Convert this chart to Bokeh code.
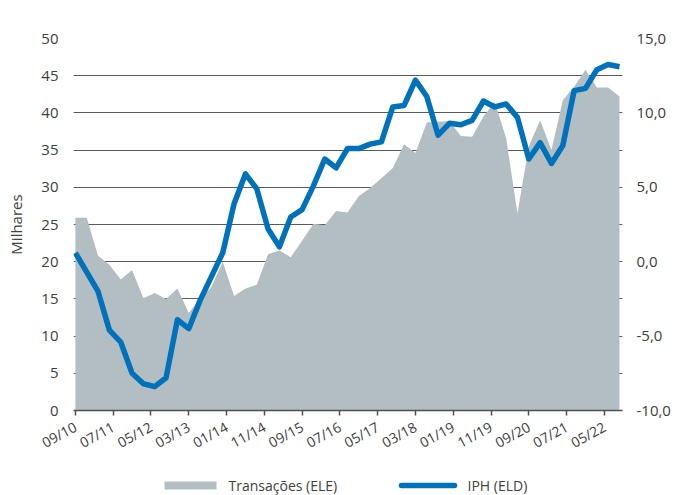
from bokeh.plotting import figure
from bokeh.layouts import column
from bokeh.models import Range1d, LinearAxis, FixedTicker
from bokeh.embed import file_html
from bokeh.resources import INLINE

# Quarterly observations (MM/YY)
quarters = [
    "09/10", "12/10",
    "03/11", "06/11", "09/11", "12/11",
    "03/12", "06/12", "09/12", "12/12",
    "03/13", "06/13", "09/13", "12/13",
    "03/14", "06/14", "09/14", "12/14",
    "03/15", "06/15", "09/15", "12/15",
    "03/16", "06/16", "09/16", "12/16",
    "03/17", "06/17", "09/17", "12/17",
    "03/18", "06/18", "09/18", "12/18",
    "03/19", "06/19", "09/19", "12/19",
    "03/20", "06/20", "09/20", "12/20",
    "03/21", "06/21", "09/21", "12/21",
    "03/22", "06/22", "09/22",
]

# Transações (milhares) - left axis
transacoes = [
    25.9, 25.9, 20.8, 19.6, 17.6, 18.9, 15.1, 15.8, 15.0, 16.4,
    13.1, 15.0, 16.6, 20.0, 15.4, 16.4, 16.9, 21.0, 21.5, 20.6,
    22.8, 25.1, 24.9, 26.8, 26.6, 28.8, 29.9, 31.2, 32.6, 35.8,
    34.6, 38.7, 38.8, 38.9, 36.9, 36.8, 39.5, 41.5, 36.6, 26.5,
    35.5, 39.0, 35.0, 41.7, 43.5, 45.8, 43.4, 43.4, 42.2,
]

# IPH (%) - right axis
iph = [
    0.6, -0.7, -2.0, -4.6, -5.4, -7.5, -8.2, -8.4, -7.8, -3.9,
    -4.5, -2.6, -1.0, 0.6, 3.9, 5.9, 4.9, 2.2, 1.0, 3.0,
    3.5, 5.1, 6.9, 6.3, 7.6, 7.6, 7.9, 8.05, 10.4, 10.5,
    12.2, 11.1, 8.5, 9.3, 9.2, 9.5, 10.8, 10.4, 10.6, 9.7,
    6.9, 8.0, 6.6, 7.8, 11.5, 11.65, 12.9, 13.25, 13.1,
]

tick_labels = ["09/10", "07/11", "05/12", "03/13", "01/14", "11/14", "09/15",
               "07/16", "05/17", "03/18", "01/19", "11/19", "09/20", "07/21", "05/22"]

left_ticks = [0, 5, 10, 15, 20, 25, 30, 35, 40, 45, 50]
right_ticks = [-10, -5, 0, 5, 10, 15]
right_labels = ["-10,0", "-5,0", "0,0", "5,0", "10,0", "15,0"]

series_names = ["Transações (ELE)", "IPH (ELD)"]

AREA_COLOR = "#b3bec3"
LINE_COLOR = "#0072bc"


def month_index(s):
    mm, yy = s.split("/")
    return (int(yy) - 10) * 12 + int(mm) - 9


x = [month_index(q) for q in quarters]
xticks = [month_index(t) for t in tick_labels]

FONT = "Open Sans"
TXT = "#404040"

BORDER_L, BORDER_R = 73, 54
W = 676

p = figure(width=W, height=462, output_backend="svg", toolbar_location=None,
           x_range=Range1d(-0.5, 144.8), y_range=Range1d(0, 50),
           min_border_top=38, min_border_left=BORDER_L, min_border_right=BORDER_R,
           min_border_bottom=49)
p.extra_y_ranges = {"right": Range1d(-10, 15)}
p.outline_line_color = None
p.background_fill_color = "white"

# grid
p.xgrid.visible = False
p.ygrid.grid_line_color = "#5a5a5a"
p.ygrid.grid_line_width = 1

area_r = p.varea(x=x, y1=0, y2=transacoes, fill_color=AREA_COLOR)
line_r = p.line(x=x, y=iph, y_range_name="right", line_color=LINE_COLOR,
                line_width=5.5, line_join="round")

# left axis
ya = p.yaxis[0]
ya.ticker = FixedTicker(ticks=left_ticks)
ya.axis_line_color = None
ya.major_tick_line_color = None
ya.minor_tick_line_color = None
ya.major_tick_out = 0
ya.major_label_standoff = 15
ya.major_label_text_font = FONT
ya.major_label_text_font_size = "15px"
ya.major_label_text_color = TXT
ya.axis_label = "Milhares"
ya.axis_label_text_font = FONT
ya.axis_label_text_font_size = "15px"
ya.axis_label_text_font_style = "normal"
ya.axis_label_text_color = TXT
ya.axis_label_standoff = 12
p.ygrid.ticker = FixedTicker(ticks=left_ticks)

# right axis
ra = LinearAxis(y_range_name="right", ticker=FixedTicker(ticks=right_ticks))
ra.major_label_overrides = {t: l for t, l in zip(right_ticks, right_labels)}
ra.axis_line_color = None
ra.major_tick_line_color = None
ra.minor_tick_line_color = None
ra.major_tick_out = 0
ra.major_label_standoff = 14
ra.major_label_text_font = FONT
ra.major_label_text_font_size = "15px"
ra.major_label_text_color = TXT
p.add_layout(ra, "right")

# bottom axis
xa = p.xaxis[0]
xa.ticker = FixedTicker(ticks=xticks)
xa.major_label_overrides = {t: l for t, l in zip(xticks, tick_labels)}
xa.axis_line_color = "#505050"
xa.axis_line_width = 1.5
xa.major_tick_line_color = "#505050"
xa.major_tick_line_width = 1.5
xa.major_tick_in = 0
xa.major_tick_out = 5
xa.minor_tick_line_color = None
xa.major_label_orientation = 0.5
xa.major_label_standoff = 10
xa.major_label_text_font = FONT
xa.major_label_text_font_size = "14px"
xa.major_label_text_color = TXT

# legend strip: its frame is aligned with the main frame, so map the
# x range to page pixels (frame spans BORDER_L .. W - BORDER_R)
lg = figure(width=W, height=33, output_backend="svg", toolbar_location=None,
            x_axis_location=None, y_axis_location=None,
            min_border=0, min_border_left=BORDER_L, min_border_right=BORDER_R,
            x_range=Range1d(BORDER_L, W - BORDER_R), y_range=Range1d(0, 33))
lg.outline_line_color = None
lg.grid.visible = False
lg.quad(left=[164], right=[216], bottom=[6], top=[14],
        fill_color=AREA_COLOR, line_color=None)
lg.line(x=[401, 454], y=[10, 10], line_color=LINE_COLOR, line_width=5.5,
        line_cap="round")
lg.text(x=[228, 467], y=[10, 10], text=series_names,
        text_font={"value": FONT}, text_font_size="14px", text_color=TXT,
        text_baseline="middle", text_align="left")

layout = column(p, lg, spacing=0)

open("out.html", "w").write(file_html(layout, INLINE))
